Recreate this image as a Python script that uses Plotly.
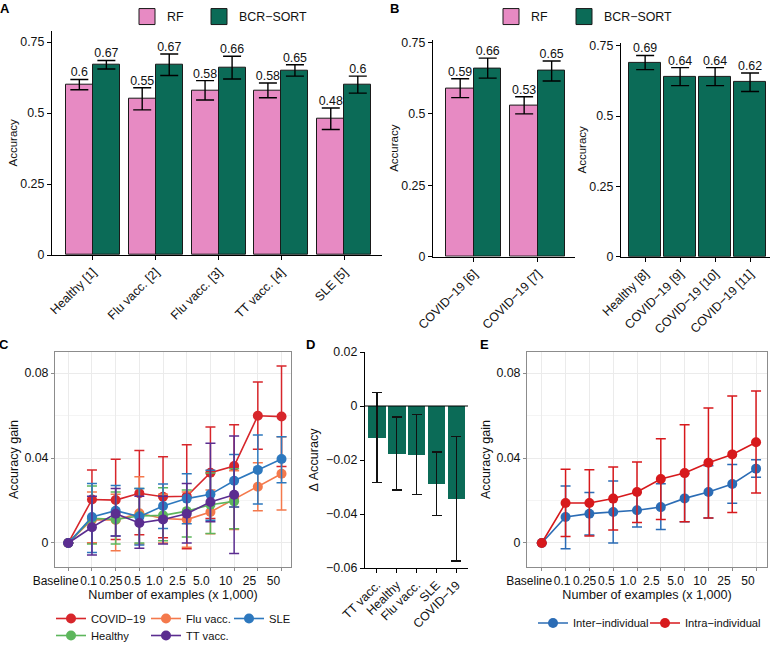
import numpy as np
import plotly.graph_objects as go

W, H = 773, 645
FONT = "Liberation Sans, Arial, sans-serif"
PINK = "#E78AC3"
GREEN = "#0B6B57"

# ---------------- data ----------------
a_cats = ["Healthy [1]", "Flu vacc. [2]", "Flu vacc. [3]", "TT vacc. [4]", "SLE [5]"]
a_rf = [0.60, 0.55, 0.58, 0.58, 0.48]
a_rf_err = [0.018, 0.039, 0.034, 0.026, 0.038]
a_bcr = [0.67, 0.67, 0.66, 0.65, 0.60]
a_bcr_err = [0.015, 0.038, 0.040, 0.020, 0.030]

b1_cats = ["COVID\u221219 [6]", "COVID\u221219 [7]"]
b1_rf = [0.59, 0.53]
b1_rf_err = [0.033, 0.030]
b1_bcr = [0.66, 0.65]
b1_bcr_err = [0.035, 0.035]

b2_cats = ["Healthy [8]", "COVID\u221219 [9]", "COVID\u221219 [10]", "COVID\u221219 [11]"]
b2_bcr = [0.69, 0.64, 0.64, 0.62]
b2_bcr_err = [0.025, 0.032, 0.032, 0.033]

steps = ["Baseline", "0.1", "0.25", "0.5", "1.0", "2.5", "5.0", "10", "25", "50"]

covid_mean = [0, 0.0205, 0.0202, 0.0234, 0.0218, 0.0220, 0.0331, 0.0362, 0.0599, 0.0595]
covid_hi = [0, 0.0344, 0.0394, 0.0435, 0.0406, 0.0463, 0.0546, 0.0557, 0.0758, 0.0833]
covid_lo = [0, 0.0000, 0.0016, 0.0039, 0.0025, -0.0027, 0.0115, 0.0170, 0.0441, 0.0360]

flu_mean = [0, 0.0110, 0.0108, 0.0140, 0.0115, 0.0110, 0.0146, 0.0207, 0.0265, 0.0326]
flu_hi = [0, 0.0240, 0.0230, 0.0312, 0.0230, 0.0240, 0.0250, 0.0340, 0.0378, 0.0500]
flu_lo = [0, 0.0000, -0.0036, -0.0005, 0.0000, -0.0020, 0.0044, 0.0063, 0.0152, 0.0155]

healthy_mean = [0, 0.0116, 0.0111, 0.0127, 0.0130, 0.0150, 0.0180, 0.0196]
healthy_hi = [0, 0.0268, 0.0240, 0.0257, 0.0260, 0.0250, 0.0330, 0.0350]
healthy_lo = [0, -0.0005, -0.0005, 0.0000, 0.0010, 0.0028, 0.0045, 0.0067]

sle_mean = [0, 0.0122, 0.0152, 0.0124, 0.0174, 0.0209, 0.0229, 0.0293, 0.0344, 0.0395]
sle_hi = [0, 0.0280, 0.0271, 0.0257, 0.0278, 0.0326, 0.0342, 0.0416, 0.0508, 0.0500]
sle_lo = [0, -0.0045, 0.0033, -0.0010, 0.0068, 0.0090, 0.0107, 0.0170, 0.0184, 0.0284]

tt_mean = [0, 0.0074, 0.0138, 0.0094, 0.0111, 0.0138, 0.0193, 0.0227]
tt_hi = [0, 0.0220, 0.0257, 0.0220, 0.0220, 0.0280, 0.0470, 0.0504]
tt_lo = [0, -0.0056, 0.0033, -0.0025, -0.0005, 0.0000, 0.0100, -0.0049]

d_cats = ["TT vacc.", "Healthy", "Flu vacc.", "SLE", "COVID\u221219"]
d_delta = [-0.0117, -0.0177, -0.0181, -0.0289, -0.0344]
d_hi = [0.0051, -0.0041, -0.0032, -0.0170, -0.0114]
d_lo = [-0.0284, -0.0311, -0.0328, -0.0406, -0.0574]

inter_mean = [0, 0.0122, 0.0138, 0.0146, 0.0154, 0.0169, 0.0210, 0.0240, 0.0278, 0.0350]
inter_hi = [0, 0.0268, 0.0238, 0.0292, 0.0238, 0.0279, 0.0326, 0.0364, 0.0369, 0.0392]
inter_lo = [0, -0.0027, 0.0038, 0.0000, 0.0075, 0.0063, 0.0100, 0.0118, 0.0187, 0.0309]

intra_mean = [0, 0.0188, 0.0188, 0.0209, 0.0240, 0.0301, 0.0329, 0.0378, 0.0417, 0.0474]
intra_hi = [0, 0.0347, 0.0345, 0.0358, 0.0381, 0.0491, 0.0557, 0.0635, 0.0692, 0.0715]
intra_lo = [0, 0.0031, 0.0033, 0.0061, 0.0097, 0.0110, 0.0100, 0.0118, 0.0143, 0.0235]

# style: horizontal shift (px) of each step label relative to its tick
label_shift_px = [-12.6, -3.4, -4.8, -6.8, -8.8, -9.4, -9.1, -8.4, -8.3, -8.1]


def xd(a, b):
    return [a / W, b / W]


def yd(top, bottom):
    return [1 - bottom / H, 1 - top / H]


fig = go.Figure()


def legend_swatch(name, color, legend, xa, ya):
    fig.add_trace(go.Scatter(x=[None], y=[None], mode="markers", name=name,
                             marker=dict(symbol="square", size=16, color=color, line=dict(color="#1a1a1a", width=1)),
                             xaxis=xa, yaxis=ya, legend=legend, showlegend=True))


# ---------------- bar panels ----------------
def grouped(rf, rf_err, bcr, bcr_err, xa, ya):
    idx = np.arange(len(rf))
    off = 0.215
    fig.add_trace(go.Bar(x=idx - off, y=rf, width=0.43, name="RF", marker=dict(color=PINK, line=dict(color="#1a1a1a", width=1)),
                         error_y=dict(type="data", array=rf_err, color="black", thickness=1.4, width=9),
                         xaxis=xa, yaxis=ya, showlegend=False))
    fig.add_trace(go.Bar(x=idx + off, y=bcr, width=0.43, name="BCR\u2212SORT", marker=dict(color=GREEN, line=dict(color="#1a1a1a", width=1)),
                         error_y=dict(type="data", array=bcr_err, color="black", thickness=1.4, width=9),
                         xaxis=xa, yaxis=ya, showlegend=False))
    fig.add_trace(go.Scatter(x=np.concatenate([idx - off, idx + off]),
                             y=np.concatenate([np.array(rf) + rf_err, np.array(bcr) + bcr_err]),
                             text=[f"{v:g}" for v in list(rf) + list(bcr)], mode="text", textposition="top center",
                             textfont=dict(size=12.4, color="#111"), xaxis=xa, yaxis=ya, showlegend=False, hoverinfo="skip"))


grouped(a_rf, a_rf_err, a_bcr, a_bcr_err, "x", "y")
grouped(b1_rf, b1_rf_err, b1_bcr, b1_bcr_err, "x2", "y2")
legend_swatch("RF", PINK, "legend", "x", "y")
legend_swatch("BCR\u2212SORT", GREEN, "legend2", "x", "y")
legend_swatch("RF", PINK, "legend3", "x2", "y2")
legend_swatch("BCR\u2212SORT", GREEN, "legend4", "x2", "y2")

idx2 = np.arange(len(b2_cats))
fig.add_trace(go.Bar(x=idx2, y=b2_bcr, width=0.9, marker=dict(color=GREEN, line=dict(color="#1a1a1a", width=1)),
                     error_y=dict(type="data", array=b2_bcr_err, color="black", thickness=1.4, width=9),
                     xaxis="x3", yaxis="y3", showlegend=False))
fig.add_trace(go.Scatter(x=idx2, y=np.array(b2_bcr) + b2_bcr_err, text=[f"{v:g}" for v in b2_bcr],
                         mode="text", textposition="top center", textfont=dict(size=12.4, color="#111"),
                         xaxis="x3", yaxis="y3", showlegend=False, hoverinfo="skip"))

# ---------------- panel D ----------------
idxd = np.arange(len(d_cats))
fig.add_trace(go.Bar(x=idxd, y=d_delta, width=0.88, marker=dict(color=GREEN, line=dict(width=0)),
                     error_y=dict(type="data", symmetric=False, array=np.array(d_hi) - d_delta,
                                  arrayminus=np.array(d_delta) - d_lo, color="#111", thickness=1.2, width=5),
                     xaxis="x5", yaxis="y5", showlegend=False))


# ---------------- line panels ----------------
def line(mean, hi, lo, color, name, xa, ya, legend):
    n = len(mean)
    m = np.array(mean)
    fig.add_trace(go.Scatter(x=np.arange(n), y=m, mode="lines+markers", name=name,
                             line=dict(color=color, width=1.6), marker=dict(size=10, color=color),
                             error_y=dict(type="data", symmetric=False, array=np.array(hi) - m, arrayminus=m - np.array(lo),
                                          color=color, thickness=1.5, width=5),
                             xaxis=xa, yaxis=ya, legend=legend))


C_RED, C_OR, C_GR, C_BL, C_PU = "#D7262B", "#F4794C", "#5DB65C", "#2D78BE", "#5B2D90"
line(covid_mean, covid_hi, covid_lo, C_RED, "COVID\u221219", "x4", "y4", "legend5")
line(flu_mean, flu_hi, flu_lo, C_OR, "Flu vacc.", "x4", "y4", "legend6")
line(healthy_mean, healthy_hi, healthy_lo, C_GR, "Healthy", "x4", "y4", "legend8")
line(sle_mean, sle_hi, sle_lo, C_BL, "SLE", "x4", "y4", "legend7")
line(tt_mean, tt_hi, tt_lo, C_PU, "TT vacc.", "x4", "y4", "legend9")

line(inter_mean, inter_hi, inter_lo, "#2B6CB5", "Inter\u2212individual", "x6", "y6", "legend10")
line(intra_mean, intra_hi, intra_lo, "#D7191C", "Intra\u2212individual", "x6", "y6", "legend11")

# helper (empty) traces so the tick-label axes of C and E are drawn
for xa, ya in [("x7", "y4"), ("x8", "y6")]:
    fig.add_trace(go.Scatter(x=[None], y=[None], mode="markers", xaxis=xa, yaxis=ya, showlegend=False, hoverinfo="skip"))

# ---------------- axes ----------------
tickf = dict(family=FONT, size=12.4, color="#111")
tickf_small = dict(family=FONT, size=12, color="#111")


def classic_x(dom, cats, rng, anchor):
    return dict(domain=dom, range=rng, tickvals=list(range(len(cats))), ticktext=cats, tickangle=-45,
                showline=True, linecolor="black", linewidth=1.2, ticks="outside", ticklen=4, tickcolor="black",
                showgrid=False, zeroline=False, tickfont=tickf, anchor=anchor, automargin=False)


def classic_y(dom, rng, dtick, title, anchor, tsize=11.5, standoff=0):
    return dict(domain=dom, range=rng, dtick=dtick, showline=True, linecolor="black", linewidth=1.2, ticks="outside",
                ticklen=4, tickcolor="black", showgrid=False, zeroline=False, tickfont=tickf, anchor=anchor,
                automargin=False,
                title=dict(text=title, font=dict(family=FONT, size=tsize, color="#111"), standoff=standoff))


def box_x(dom, rng, anchor):
    return dict(domain=dom, range=rng, tickvals=list(range(len(steps))), showticklabels=False,
                showline=True, mirror=True, linecolor="#8c8c8c", linewidth=1, ticks="outside", ticklen=3,
                tickcolor="#8c8c8c", showgrid=True, gridcolor="#EBEBEB", gridwidth=1, zeroline=False,
                anchor=anchor, automargin=False)


def label_x(over, dom, rng, anchor, px_per_unit):
    return dict(overlaying=over, domain=dom, range=rng, anchor=anchor, side="bottom",
                tickvals=[i + s / px_per_unit for i, s in enumerate(label_shift_px)], ticktext=steps, tickangle=0,
                showline=False, showgrid=False, zeroline=False, ticks="outside", ticklen=3, tickcolor="rgba(0,0,0,0)",
                tickfont=tickf_small, automargin=False,
                title=dict(text="Number of examples (x 1,000)", font=dict(family=FONT, size=12.6, color="#111"), standoff=2))


def box_y(dom, anchor):
    return dict(domain=dom, range=[-0.0113, 0.0899], tickvals=[0, 0.04, 0.08], ticktext=["0", "0.04", "0.08"],
                showline=True, mirror=True, linecolor="#8c8c8c", linewidth=1, ticks="outside", ticklen=3,
                tickcolor="#8c8c8c", showgrid=True, gridcolor="#EBEBEB", gridwidth=1, zeroline=False,
                minor=dict(tickvals=[0.02, 0.06], showgrid=True, gridcolor="#F4F4F4", ticks=""),
                tickfont=tickf, anchor=anchor, automargin=False,
                title=dict(text="Accuracy gain", font=dict(family=FONT, size=12.6, color="#111"), standoff=2))


c_rng = [-0.56, 9.4]
e_rng = [-0.62, 9.46]
c_dom = xd(55, 291)
e_dom = xd(527, 767)
ax = {}
ax["xaxis"] = classic_x(xd(52, 382), a_cats, [-0.65, 4.6], "y")
ax["yaxis"] = classic_y(yd(30.7, 255), [0, 0.79], 0.25, "Accuracy", "x")
ax["xaxis2"] = classic_x(xd(433, 575), b1_cats, [-0.64, 1.58], "y2")
ax["yaxis2"] = classic_y(yd(39.6, 256.7), [0, 0.76], 0.25, "Accuracy", "x2")
ax["xaxis3"] = classic_x(xd(621, 770), b2_cats, [-0.69, 3.57], "y3")
ax["yaxis3"] = classic_y(yd(42.9, 256.7), [0, 0.76], 0.25, "Accuracy", "x3")
ax["xaxis4"] = box_x(c_dom, c_rng, "y4")
ax["yaxis4"] = box_y(yd(352, 567), "x4")
ax["xaxis5"] = classic_x(xd(365, 468), d_cats, [-0.6, 4.58], "y5")
ax["yaxis5"] = classic_y(yd(352, 568), [-0.06, 0.02], 0.02, "\u0394 Accuracy", "x5", 12.6, 4)
ax["xaxis6"] = box_x(e_dom, e_rng, "y6")
ax["yaxis6"] = box_y(yd(352, 567), "x6")
ax["xaxis7"] = label_x("x4", c_dom, c_rng, "y4", 236 / (c_rng[1] - c_rng[0]))
ax["xaxis8"] = label_x("x6", e_dom, e_rng, "y6", 240 / (e_rng[1] - e_rng[0]))

shapes = [dict(type="line", xref="x5", yref="y5", x0=-0.6, x1=4.58, y0=0, y1=0, line=dict(color="black", width=1))]

leg_big = dict(orientation="h", font=dict(family=FONT, size=12.4, color="#111"), bgcolor="rgba(0,0,0,0)",
               xanchor="left", yanchor="middle", borderwidth=0)
leg_small = dict(leg_big, font=dict(family=FONT, size=11.2, color="#111"))

legend_pos = {
    "legend": (127, 17, leg_big), "legend2": (199, 17, leg_big), "legend3": (491, 17, leg_big), "legend4": (564, 17, leg_big),
    "legend5": (51, 618.5, leg_small), "legend6": (146, 618.5, leg_small), "legend7": (229, 618.5, leg_small),
    "legend8": (51, 635.5, leg_small), "legend9": (146, 635.5, leg_small),
    "legend10": (533, 623, leg_small), "legend11": (645, 623, leg_small),
}
legends = {k: dict(v[2], x=v[0] / W, y=1 - v[1] / H) for k, v in legend_pos.items()}

annotations = []
for txt, x, y in [("A", 5, 9), ("B", 394, 9), ("C", 4, 344), ("D", 310, 344), ("E", 484, 344)]:
    annotations.append(dict(text=f"<b>{txt}</b>", x=x / W, y=1 - y / H, xref="paper", yref="paper", showarrow=False,
                            font=dict(family=FONT, size=13, color="black"), xanchor="center", yanchor="middle"))

fig.update_layout(
    template="none",
    width=W, height=H, margin=dict(l=0, r=0, t=0, b=0, autoexpand=False), autosize=False,
    paper_bgcolor="white", plot_bgcolor="white", barmode="overlay", bargap=0,
    font=dict(family=FONT, color="#111"),
    shapes=shapes, annotations=annotations,
    **legends,
    **ax,
)

fig.write_html("out.html")
